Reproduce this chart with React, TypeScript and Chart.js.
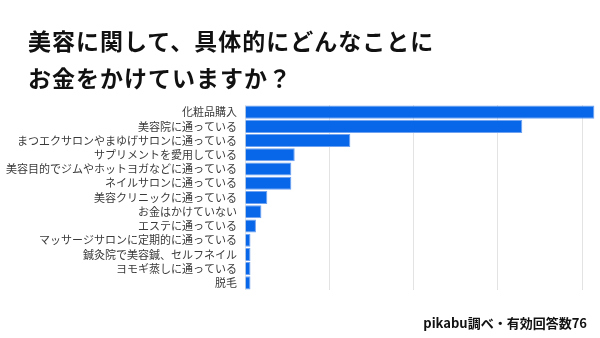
import React, { useEffect, useRef } from "react";
import { Chart, registerables } from "chart.js";

Chart.register(...registerables);

const titleLines = ["美容に関して、具体的にどんなことに", "お金をかけていますか？"];
const footerText = "pikabu調べ・有効回答数76";

const categories = [
  "化粧品購入",
  "美容院に通っている",
  "まつエクサロンやまゆげサロンに通っている",
  "サプリメントを愛用している",
  "美容目的でジムやホットヨガなどに通っている",
  "ネイルサロンに通っている",
  "美容クリニックに通っている",
  "お金はかけていない",
  "エステに通っている",
  "マッサージサロンに定期的に通っている",
  "鍼灸院で美容鍼、セルフネイル",
  "ヨモギ蒸しに通っている",
  "脱毛",
];

const values = [82.9, 65.8, 25.0, 11.8, 11.0, 11.0, 5.3, 3.9, 2.6, 1.3, 1.3, 1.3, 1.3];

const FONT = "'Noto Sans CJK JP', 'Noto Sans', sans-serif";

export default function App() {
  const ref = useRef<HTMLCanvasElement | null>(null);

  useEffect(() => {
    document.body.style.margin = "0";
    const canvas = ref.current;
    if (!canvas) return;
    const chart = new Chart(canvas, {
      type: "bar",
      data: {
        labels: categories,
        datasets: [
          {
            data: values,
            backgroundColor: "#0866e8",
            borderColor: "#6fa3f2",
            borderWidth: 1,
            barPercentage: 0.92,
            categoryPercentage: 1.0,
          },
        ],
      },
      options: {
        indexAxis: "y",
        animation: false,
        responsive: false,
        maintainAspectRatio: false,
        layout: { padding: { top: 105, bottom: 48, left: 0, right: 1 } },
        plugins: {
          legend: { display: false },
          tooltip: { enabled: false },
          title: { display: false },
        },
        scales: {
          x: {
            min: 0,
            max: 84,
            border: { display: false },
            grid: { color: "#e3e3e3", lineWidth: 1, drawTicks: false },
            ticks: { display: false, stepSize: 20, includeBounds: false },
          },
          y: {
            border: { display: false },
            grid: { display: false, drawTicks: false },
            ticks: {
              color: "#3a3a3a",
              padding: 8,
              autoSkip: false,
              font: { family: FONT, size: 11 },
            },
            afterFit: (scale: any) => {
              scale.width = 245;
            },
          },
        },
      },
    });
    return () => chart.destroy();
  }, []);

  return (
    <div style={{ position: "absolute", left: 0, top: 0, width: 600, height: 338, background: "#fff", overflow: "hidden" }}>
      <canvas ref={ref} width={600} height={338} style={{ position: "absolute", left: 0, top: 0, width: 600, height: 338 }} />
      <div
        style={{
          position: "absolute",
          left: 28,
          top: 22,
          fontFamily: FONT,
          fontWeight: 700,
          fontSize: 23,
          lineHeight: "37px",
          letterSpacing: 1,
          color: "#111",
          whiteSpace: "nowrap",
        }}
      >
        {titleLines.map((t, i) => (
          <div key={i}>{t}</div>
        ))}
      </div>
      <div
        style={{
          position: "absolute",
          right: 13,
          top: 313,
          fontFamily: FONT,
          fontWeight: 700,
          fontSize: 13,
          lineHeight: "20px",
          color: "#111",
          whiteSpace: "nowrap",
        }}
      >
        {footerText}
      </div>
    </div>
  );
}
